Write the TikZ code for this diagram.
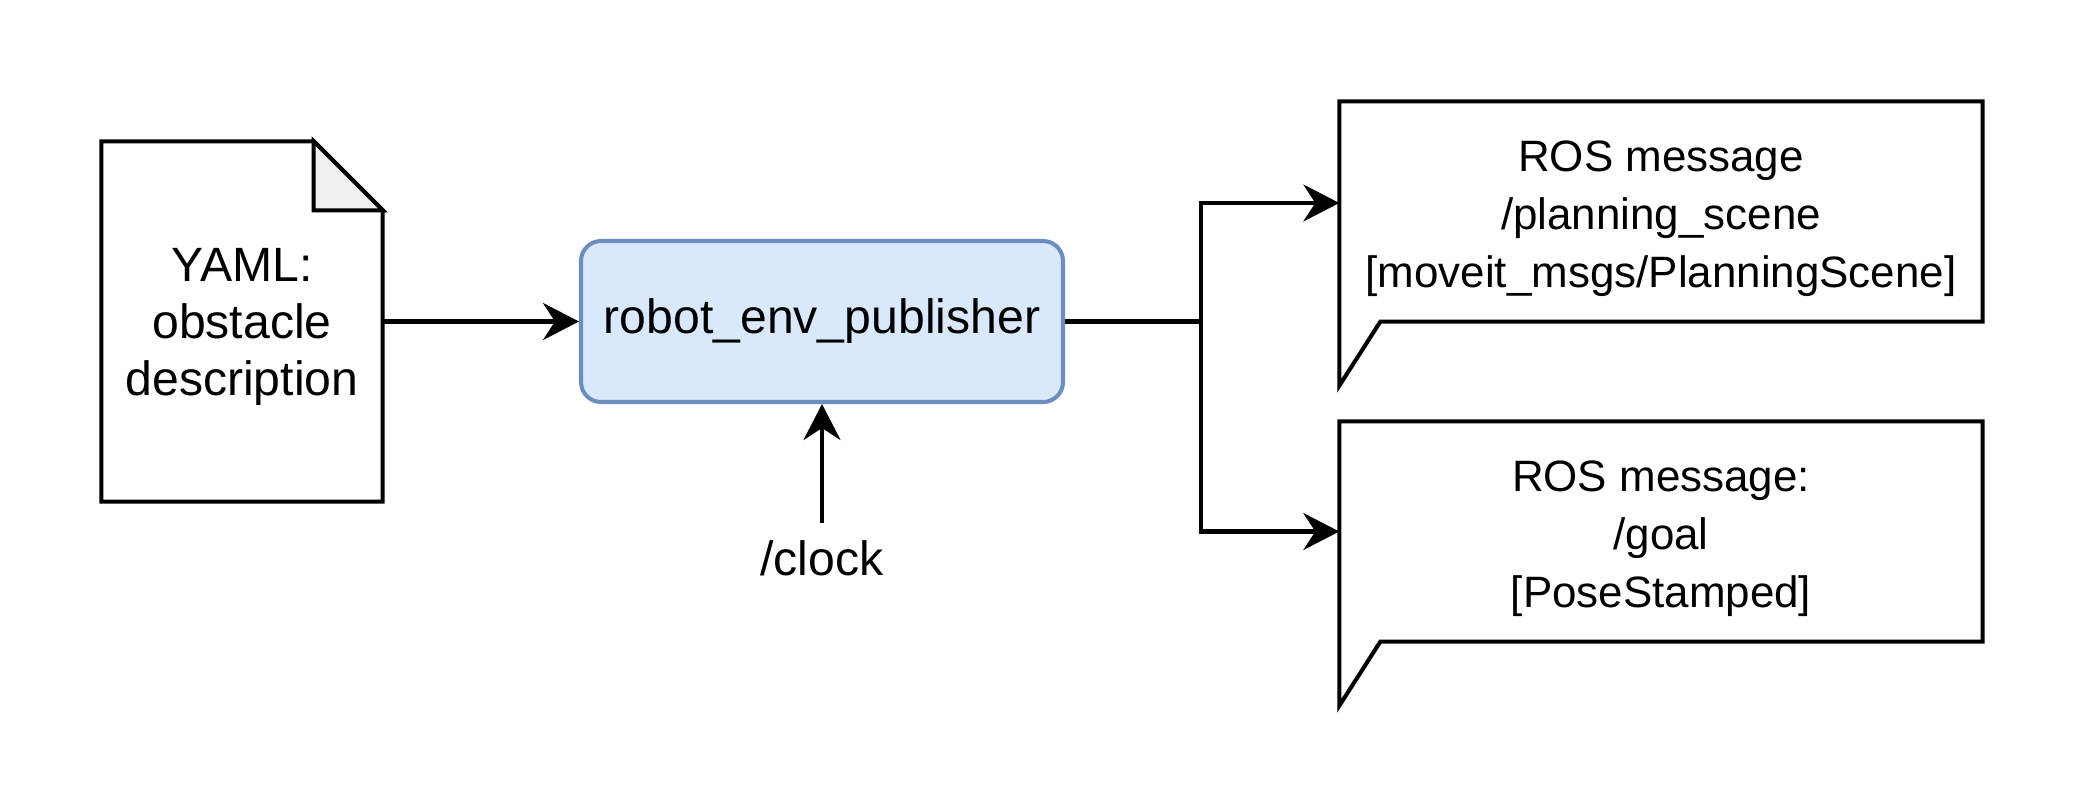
\documentclass[tikz,border=0pt]{standalone}
\usepackage{fontspec}
\setmainfont{Liberation Sans}
\usetikzlibrary{arrows.meta,positioning}

\definecolor{publine}{HTML}{6C8EBF}
\definecolor{pubfill}{HTML}{DAE8FC}
\definecolor{foldgray}{HTML}{F1F1F1}

\tikzset{
  txt/.style={font=\fontsize{13.7}{16.2}\selectfont, align=center},
  msgtxt/.style={font=\fontsize{12.5}{16.6}\selectfont, align=center},
  docnode/.style={txt, minimum width=2.8cm, minimum height=3.59cm},
  pubnode/.style={txt, draw=publine, fill=pubfill, line width=1.15pt, rounded corners=0.2cm,
    minimum width=4.82cm, minimum height=1.61cm},
  msgnode/.style={msgtxt, minimum width=6.42cm, minimum height=2.19cm},
  outline/.style={line width=1.15pt, line join=miter},
  flow/.style={line width=1.15pt, -{Stealth[length=0.36cm, width=0.37cm, inset=0.12cm]}}
}

\begin{document}
\begin{tikzpicture}
      \useasboundingbox (0,0) rectangle (20.84,8.04);

      \node[docnode] (yaml) at (2.42,4.825) {\rule{0pt}{12.6pt}YAML:\\obstacle\\description};
      \draw[outline] (yaml.south west) -- (yaml.north west) -- ([xshift=-0.69cm]yaml.north east)
        -- ([yshift=-0.69cm]yaml.north east) -- (yaml.south east) -- cycle;
      \filldraw[outline, fill=foldgray] ([xshift=-0.69cm]yaml.north east)
        -- ([xshift=-0.69cm, yshift=-0.69cm]yaml.north east) -- ([yshift=-0.69cm]yaml.north east) -- cycle;

      \node[pubnode] (pub) at (8.22,4.825) {robot\_env\_publisher};
      \node[txt] (clock) at (8.22,2.46) {/clock};

      \node[msgnode] (scene) at (16.61,5.925) {\rule{0pt}{12.8pt}ROS message\\/planning\_scene\\{[}moveit\_msgs/PlanningScene{]}};
      \node[msgnode] (goal) at (16.61,2.725) {\rule{0pt}{12.8pt}ROS message:\\/goal\\{[}PoseStamped{]}};
      \draw[outline] (scene.north west) -- (scene.north east) -- (scene.south east)
        -- ([xshift=0.41cm]scene.south west) -- ([yshift=-0.64cm]scene.south west) -- cycle;
      \draw[outline] (goal.north west) -- (goal.north east) -- (goal.south east)
        -- ([xshift=0.41cm]goal.south west) -- ([yshift=-0.64cm]goal.south west) -- cycle;

      \coordinate (split) at (12.01,4.825);
      \draw[flow] (yaml.east) -- (pub.west);
      \draw[flow] ([yshift=0.05cm]clock.north) -- (pub.south);
      \draw[flow] (pub.east) -- (split) |- ([yshift=0.085cm]scene.west);
      \draw[flow] (split) |- (goal.west);
\end{tikzpicture}
\end{document}
